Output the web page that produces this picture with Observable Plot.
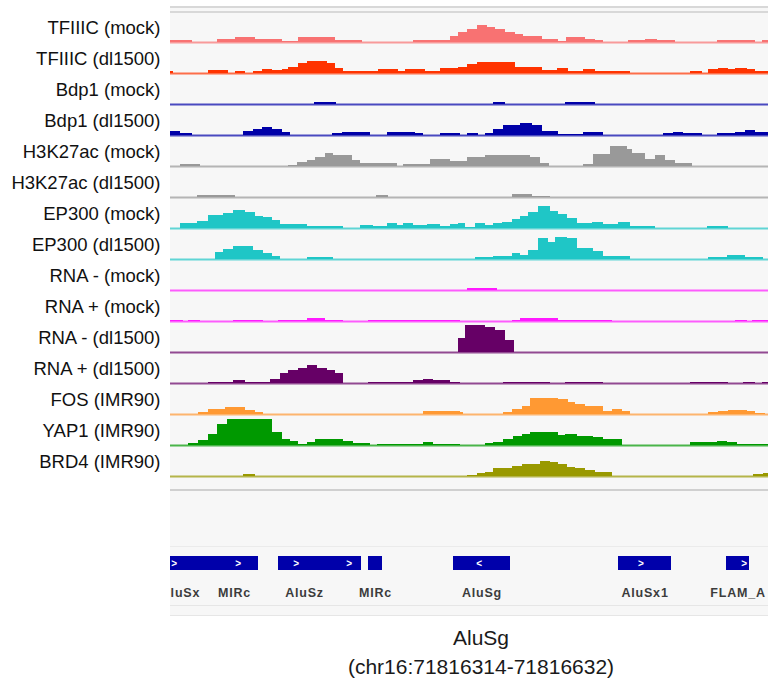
<!DOCTYPE html>
<html>
<head>
<meta charset="utf-8">
<script src="https://cdn.jsdelivr.net/npm/d3@7"></script>
<script src="https://cdn.jsdelivr.net/npm/@observablehq/plot@0.6"></script>
<style>
  html, body { margin: 0; padding: 0; background: #fff; }
  #view { position: relative; width: 768px; height: 683px; overflow: hidden; }
  .panel { position: absolute; left: 170px; width: 598px; }
  .line { position: absolute; left: 170px; width: 598px; }
  #tracks { position: absolute; left: 0; top: 0; }
  /* the feature panel hides anything left of the data area */
  #annot { position: absolute; left: 170px; top: 490px; width: 598px; height: 125px; overflow: hidden; }
  #annot svg { margin-left: -170px; max-width: none !important; width: 768px; height: 125px; }
  #caption {
    position: absolute; left: 281px; width: 400px; top: 623px;
    text-align: center; font: 21px/29px "Liberation Sans", Arial, sans-serif; color: #1a1a1a;
  }
</style>
</head>
<body>
<div id="view">
  <div class="panel" style="top:7px;height:608px;background:#f7f7f7"></div>
  <div class="line" style="top:6px;height:2px;background:#d8d8d8"></div>
  <div class="line" style="top:11px;height:2px;background:#d8d8d8"></div>
  <div class="line" style="top:489px;height:2px;background:#d0d0d0"></div>
  <div class="line" style="top:546px;height:1px;background:#ebebeb"></div>
  <div class="line" style="top:605px;height:1px;background:#e6e6e6"></div>
  <div class="line" style="top:615px;height:1px;background:#e6e6e6"></div>
  <div id="tracks"></div>
  <div id="annot"></div>
  <div id="caption"></div>
</div>
<script>
// Browser window: chr16:71814760-71818049 (positions below are bp offsets from regionStart)
const regionChrom = "chr16";
const regionStart = 71814760;
const regionLength = 3289;

const trackNames = [
  "TFIIIC (mock)", "TFIIIC (dl1500)", "Bdp1 (mock)", "Bdp1 (dl1500)",
  "H3K27ac (mock)", "H3K27ac (dl1500)", "EP300 (mock)", "EP300 (dl1500)",
  "RNA - (mock)", "RNA + (mock)", "RNA - (dl1500)", "RNA + (dl1500)",
  "FOS (IMR90)", "YAP1 (IMR90)", "BRD4 (IMR90)"
];
const trackColors = [
  "#f87272", "#ff3300", "#0000a8", "#0000a8",
  "#999999", "#999999", "#1fc6c6", "#1fc6c6",
  "#ff1aff", "#ff1aff", "#660066", "#660066",
  "#ff9933", "#009900", "#999900"
];
// shared data range of every coverage track
const signalMax = 31;

// bedGraph-style intervals: [start, end, signal]
const tfiiicMock = [
  [0,121,2],[259,358,3.3],[358,468,5],[468,616,3.3],[616,704,1.3],[704,908,5],[908,1056,2.3],
  [1337,1540,2.3],[1540,1584,6],[1584,1634,10],[1634,1689,13],[1689,1744,17],[1744,1788,15],
  [1788,1843,12.7],[1843,1898,10.3],[1898,1942,8.3],[1942,2046,6],[2046,2134,3.3],[2134,2178,1.3],
  [2178,2283,5],[2283,2338,3.3],[2338,2382,1.7],[2519,2613,2],[2613,2679,3.3],[2679,2778,2],
  [3009,3218,2],[3256,3289,2]
];
const tfiiicDl = [
  [0,16,2.3],[209,319,2.7],[358,413,2.3],[457,506,2],[506,561,3.7],[561,616,2.7],[616,649,4.3],
  [649,704,6],[704,754,10.3],[754,864,12],[864,908,10.3],[908,952,4.7],[952,1144,2],[1144,1254,3.7],
  [1254,1293,2],[1293,1403,3.7],[1403,1485,2],[1485,1584,5],[1584,1634,6.5],[1634,1689,8.7],
  [1689,1898,10.7],[1898,2046,5.7],[2046,2129,2.7],[2129,2189,4.7],[2189,2272,2],[2272,2338,3.7],
  [2338,2530,2],[2860,2926,2.3],[2959,3014,3.7],[3014,3069,5],[3069,3108,3.7],[3108,3174,5],
  [3174,3218,3.7],[3218,3289,2]
];
const bdp1Mock = [[792,913,2],[1777,1843,2],[2173,2338,2]];
const bdp1Dl = [
  [0,55,4.3],[55,121,2],[402,457,4.3],[457,506,6.3],[506,561,7.7],[561,616,6],[616,660,2.7],
  [891,946,2],[946,1100,3],[1194,1348,3.3],[1348,1392,2],[1485,1595,1.7],[1634,1694,1.7],
  [1733,1777,2],[1777,1832,6],[1832,1925,10.3],[1925,1991,11.7],[1991,2046,10],[2046,2134,4.3],
  [2134,2272,1.3],[2272,2382,3.3],[2712,2767,2],[2767,2822,3.3],[2822,2926,1.7],[3009,3108,1.7],
  [3108,3163,2.7],[3163,3218,4.7],[3218,3289,3.3]
];
const h3k27acMock = [
  [55,165,1.7],[649,699,1.3],[699,754,3.7],[754,798,6],[798,853,9.3],[853,897,12.7],[897,1001,11],
  [1001,1045,6],[1045,1249,2.7],[1282,1430,1.7],[1430,1540,6.7],[1540,1634,5.5],[1634,1733,9],
  [1733,1832,10.7],[1832,1980,11],[1980,2035,9],[2035,2085,3.3],[2272,2327,2.3],[2327,2420,12.3],
  [2420,2514,20],[2514,2541,17.3],[2541,2613,13.3],[2613,2668,6.7],[2668,2723,10.7],[2723,2778,6.3],
  [2778,2871,3.3]
];
const h3k27acDl = [[149,358,2],[1133,1199,2],[1881,1991,3.3],[1991,2090,1.3]];
const ep300Mock = [
  [55,149,4.7],[149,209,7.3],[209,292,13.3],[292,347,15],[347,413,17.7],[413,468,15.7],[468,512,12.3],
  [512,561,10.7],[561,605,8],[605,754,3.7],[754,952,2],[1045,1117,3.3],[1117,1194,2.3],[1194,1249,5],
  [1249,1282,3.3],[1282,1337,5],[1337,1414,3.3],[1414,1485,4],[1485,1540,2.3],[1540,1584,4],
  [1584,1623,5.2],[1623,1678,1.3],[1678,1733,5],[1733,1777,3],[1777,1826,5],[1826,1881,6],
  [1881,1925,8.7],[1925,1969,12],[1969,2024,16],[2024,2090,21.7],[2090,2134,17],[2134,2184,13.7],
  [2184,2239,10.3],[2239,2321,5],[2321,2382,6.3],[2382,2464,4.3],[2464,2530,6.3],[2530,2668,2],
  [2954,3069,2]
];
const ep300Dl = [
  [248,292,7],[292,347,10],[347,457,12.7],[457,512,9.3],[512,561,6],[561,605,3.3],[754,897,2],
  [1678,1777,1.7],[1777,1881,3],[1881,1925,5.7],[1925,1969,4],[1969,2024,9],[2024,2079,21.3],
  [2079,2118,17.3],[2118,2184,22.3],[2184,2239,21.3],[2239,2327,10.7],[2327,2382,8],[2382,2530,3],
  [2959,3064,1.7],[3064,3163,4],[3163,3262,1.7]
];
const rnaMinusMock = [[1634,1799,1.7]];
const rnaPlusMock = [
  [0,72,1.3],[99,165,1.3],[347,512,1.3],[594,754,1.3],[754,853,3],[853,952,1.3],[1089,1595,1.3],
  [1881,1925,1.3],[1925,2134,2.7],[2134,2431,1.3],[3108,3174,1.3],[3201,3289,1.3]
];
const rnaMinusDl = [[1584,1623,14],[1623,1733,27],[1733,1788,25],[1788,1843,22],[1843,1892,12]];
const rnaPlusDl = [
  [209,347,1],[347,413,2.7],[413,550,1],[550,605,4.3],[605,649,10.3],[649,704,12.7],[704,754,15.3],
  [754,809,18],[809,864,15.3],[864,908,12.7],[908,952,10],[1089,1337,1],[1337,1392,2.7],
  [1392,1447,4],[1447,1540,2.7],[1540,1595,1],[1832,2090,1],[2173,2382,1],[2860,3069,1],
  [3152,3218,1],[3256,3289,1]
];
const fosImr90 = [
  [154,209,2.3],[209,303,4.7],[303,413,6.7],[413,468,4],[468,512,1.7],[1392,1595,3],[1595,1612,2],
  [1832,1881,2],[1881,1936,5],[1936,1980,8],[1980,2134,16.3],[2134,2189,15],[2189,2228,11.7],
  [2228,2283,10],[2283,2382,8],[2382,2431,3.3],[2431,2486,5],[2486,2530,2.7],[2959,3014,1.7],
  [3014,3069,3],[3069,3174,4],[3174,3218,2.7],[3218,3273,1.3]
];
const yap1Imr90 = [
  [99,154,2.3],[154,209,5],[209,259,10.7],[259,314,21],[314,561,25.7],[561,616,12.7],[616,660,5.7],
  [660,704,3.7],[704,754,0.7],[754,798,3],[798,952,5.7],[952,1007,4],[1007,1100,2.3],[1139,1392,1.3],
  [1392,1447,3],[1447,1595,1.3],[1733,1777,1.7],[1777,1832,3.3],[1832,1887,5.7],[1887,1936,9],
  [1936,1980,11],[1980,2134,12.7],[2134,2173,10],[2173,2239,11],[2239,2327,9.3],[2327,2382,8.3],
  [2382,2486,6],[2860,3009,2.7],[3009,3064,4.3],[3064,3119,2.7],[3119,3289,1.3]
];
const brd4Imr90 = [
  [402,468,1.7],[1634,1689,1],[1689,1733,2.7],[1733,1777,4.3],[1777,1881,7.7],[1881,1936,10],
  [1936,2035,11.7],[2035,2090,15.3],[2090,2134,13.7],[2134,2184,12],[2184,2228,9.3],[2228,2283,8.3],
  [2283,2338,6],[2338,2431,4.3],[3207,3262,2],[3262,3289,3.3]
];
const trackSignals = [
  tfiiicMock, tfiiicDl, bdp1Mock, bdp1Dl, h3k27acMock, h3k27acDl, ep300Mock, ep300Dl,
  rnaMinusMock, rnaPlusMock, rnaMinusDl, rnaPlusDl, fosImr90, yap1Imr90, brd4Imr90
];

// RepeatMasker elements in the window
const repeatNames   = ["AluSx", "MIRc", "AluSz", "AluSz", "MIRc", "AluSg", "AluSx1", "FLAM_A"];
const repeatStarts  = [-110, 220, 594, 880, 1089, 1554, 2464, 3058];
const repeatEnds    = [220, 484, 880, 1050, 1166, 1872, 2756, 3185];
const repeatStrands = ["+", "+", "+", "+", "+", "-", "+", "+"];
// positions of the strand chevrons drawn inside the blocks
const strandTicks = [22, 374, 693, 985, 1700, 2590, 3157];
const highlighted = "AluSg";

const font = "'Liberation Sans', Arial, Helvetica, sans-serif";

const tracks = trackNames.map((name, i) => ({track: name, color: trackColors[i]}));
const bins = trackSignals.flatMap((rows, i) =>
  rows.map(([start, end, value]) => ({track: trackNames[i], color: trackColors[i], start, end, value})));

const trackPlot = Plot.plot({
  width: 768,
  height: 490,
  marginLeft: 170,
  marginRight: 0,
  marginTop: 11,
  marginBottom: 14,
  style: {background: "transparent", fontFamily: font, color: "#111", maxWidth: "none"},
  x: {domain: [0, regionLength], axis: null},
  y: {domain: [0, signalMax], axis: null},
  fy: {domain: trackNames, padding: 0, axis: null},
  color: {type: "identity"},
  marks: [
    Plot.ruleY(tracks, {y: 0, fy: "track", stroke: "color", strokeWidth: 2, strokeOpacity: 0.7}),
    Plot.rect(bins, {
      x1: "start", x2: "end", y1: 0, y2: "value", fy: "track", fill: "color",
      shapeRendering: "crispEdges"
    }),
    Plot.text(tracks, {
      fy: "track", text: "track", frameAnchor: "left", textAnchor: "end",
      dx: -10, dy: 1, fontSize: 18.5, fill: "#111"
    })
  ]
});
document.getElementById("tracks").append(trackPlot);

const repeats = repeatNames.map((name, i) => ({
  name, start: repeatStarts[i], end: repeatEnds[i], strand: repeatStrands[i], lane: "rmsk"
}));
// adjacent fragments of one element share a single label
const repeatLabels = repeats.filter((d, i) => i === 0 || repeats[i - 1].name !== d.name);
const chevrons = strandTicks.map(pos => {
  const f = repeats.find(d => pos >= d.start && pos <= d.end);
  return {pos, lane: "rmsk", glyph: f && f.strand === "-" ? "<" : ">"};
});

const annotPlot = Plot.plot({
  width: 768,
  height: 125,
  marginLeft: 170,
  marginRight: 0,
  marginTop: 66,
  marginBottom: 45,
  style: {background: "transparent", fontFamily: font, maxWidth: "none"},
  x: {domain: [0, regionLength], axis: null},
  y: {domain: ["rmsk"], padding: 0, axis: null},
  marks: [
    Plot.barX(repeats, {
      x1: "start", x2: "end", y: "lane", fill: "#0000aa", inset: 0, shapeRendering: "crispEdges"
    }),
    Plot.text(chevrons, {x: "pos", y: "lane", text: "glyph", fill: "white", fontSize: 10, fontWeight: "bold"}),
    Plot.text(repeatLabels, {
      x: d => (d.start + d.end) / 2, y: "lane", text: "name", dy: 29,
      fontSize: 12.5, fontWeight: "bold", fill: "#3c3c3c"
    })
  ]
});
annotPlot.style.letterSpacing = "0.8px";
document.getElementById("annot").append(annotPlot);

const target = repeats.find(d => d.name === highlighted);
const caption = document.getElementById("caption");
const l1 = document.createElement("div");
l1.textContent = target.name;
const l2 = document.createElement("div");
l2.textContent = `(${regionChrom}:${regionStart + target.start}-${regionStart + target.end})`;
caption.append(l1, l2);
</script>
</body>
</html>
